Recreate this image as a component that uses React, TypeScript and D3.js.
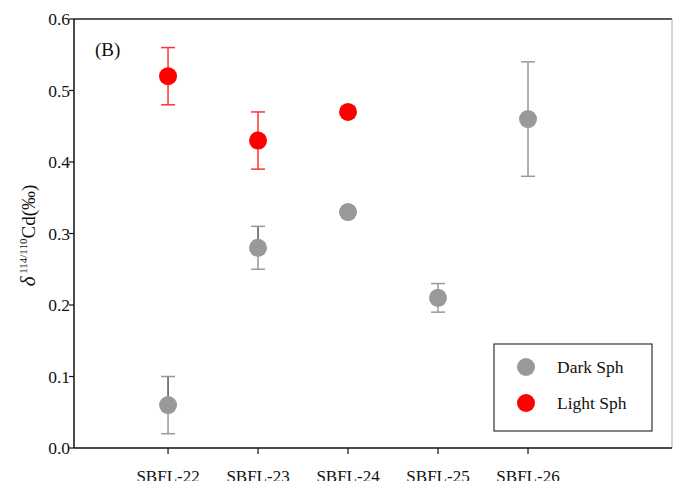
import React from 'react'
import * as d3 from 'd3'

const categories = ['SBFL-22', 'SBFL-23', 'SBFL-24', 'SBFL-25', 'SBFL-26']
const darkVals = [0.06, 0.28, 0.33, 0.21, 0.46]
const darkErr = [0.04, 0.03, 0, 0.02, 0.08]
const darkStem = ['#555', '#555', '#999', '#999', '#999']
const lightVals = [0.52, 0.43, 0.47]
const lightErr = [0.04, 0.04, 0]
const yTicks = [0, 0.1, 0.2, 0.3, 0.4, 0.5, 0.6]

const W = 676
const H = 481
const left = 74, right = 672, top = 19, bottom = 448

export default function App() {
  const x = d3.scaleLinear().domain([-1.045, 5.6]).range([left, right])
  const y = d3.scaleLinear().domain([0, 0.6]).range([bottom, top])
  const font = '"Liberation Serif", "Times New Roman", serif'
  const r = 9
  const cap = 7

  const errBar = (i: number, v: number, e: number, stemUp: string, stemDown: string, capCol: string) => {
    if (!e) return null
    const cx = x(i)
    return (
      <g>
        <line x1={cx} x2={cx} y1={y(v)} y2={y(v + e)} stroke={stemUp} strokeWidth={1.5} />
        <line x1={cx} x2={cx} y1={y(v)} y2={y(v - e)} stroke={stemDown} strokeWidth={1.5} />
        <line x1={cx - cap} x2={cx + cap} y1={y(v + e)} y2={y(v + e)} stroke={capCol} strokeWidth={1.5} />
        <line x1={cx - cap} x2={cx + cap} y1={y(v - e)} y2={y(v - e)} stroke={capCol} strokeWidth={1.5} />
      </g>
    )
  }

  return (
    <svg width={W} height={H} style={{ position: 'absolute', left: 0, top: 0, background: '#fff' }} fontFamily={font}>
      {/* frame */}
      <line x1={left} x2={right} y1={top} y2={top} stroke="#222" strokeWidth={1.5} />
      <line x1={right} x2={right} y1={top} y2={bottom} stroke="#aaa" strokeWidth={1} />
      <line x1={left} x2={left} y1={top} y2={bottom} stroke="#111" strokeWidth={1.5} />
      <line x1={left} x2={right} y1={bottom} y2={bottom} stroke="#111" strokeWidth={1.5} />

      {yTicks.map(t => (
        <g key={t}>
          <line x1={left - 5} x2={left} y1={y(t)} y2={y(t)} stroke="#111" strokeWidth={1.2} />
          <text x={left - 4} y={y(t)} dy="0.35em" textAnchor="end" fontSize={17.5} fill="#111">{t.toFixed(1)}</text>
        </g>
      ))}

      {categories.map((c, i) => (
        <g key={c}>
          <line x1={x(i)} x2={x(i)} y1={bottom} y2={bottom + 6} stroke="#111" strokeWidth={1.2} />
          <text x={x(i)} y={bottom + 34} textAnchor="middle" fontSize={17} fill="#111">{c}</text>
        </g>
      ))}

      <text transform={`translate(35,${(top + bottom) / 2 + 2}) rotate(-90)`} textAnchor="middle" fontSize={19} fill="#111">
        <tspan fontStyle="italic" fontSize={21}>δ</tspan>
        <tspan fontSize={11} dy={-8}> 114/110</tspan>
        <tspan dy={8}>Cd(‰)</tspan>
      </text>

      <text x={95} y={56} fontSize={19} fill="#111">(B)</text>

      {darkVals.map((v, i) => (
        <g key={'d' + i}>
          {errBar(i, v, darkErr[i], darkStem[i], '#999', '#999')}
          <circle cx={x(i)} cy={y(v)} r={r} fill="#999" />
        </g>
      ))}
      {lightVals.map((v, i) => (
        <g key={'l' + i}>
          {errBar(i, v, lightErr[i], '#f33', '#f33', '#f33')}
          <circle cx={x(i)} cy={y(v)} r={r} fill="#f00" />
        </g>
      ))}

      {/* legend */}
      <rect x={494} y={344} width={158} height={87} fill="#fff" stroke="#333" strokeWidth={1.2} />
      <circle cx={526} cy={367} r={r} fill="#999" />
      <text x={557} y={367} dy="0.35em" fontSize={17.5} fill="#111">Dark Sph</text>
      <circle cx={526} cy={403} r={r} fill="#f00" />
      <text x={557} y={403} dy="0.35em" fontSize={17.5} fill="#111">Light Sph</text>
    </svg>
  )
}
